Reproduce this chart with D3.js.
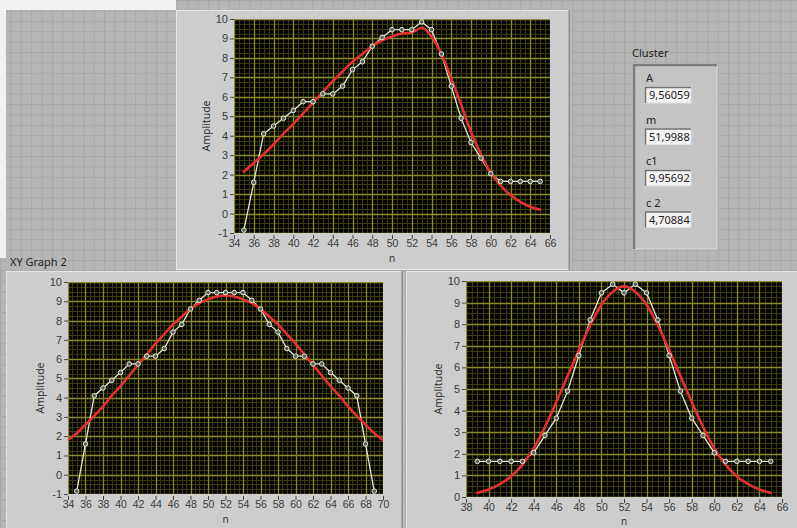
<!DOCTYPE html>
<html>
<head>
<meta charset="utf-8">
<script src="https://cdn.jsdelivr.net/npm/d3@7"></script>
<style>
  body { margin: 0; background: #b4b4b4; }
  svg { display: block; font-family: "Noto Sans", "Open Sans", sans-serif; }
</style>
</head>
<body>
<div id="panel"></div>
<script>
// ---- data ----
var nTop = d3.range(35, 66);
var ampTop = [-0.85, 1.6, 4.1, 4.5, 4.9, 5.3, 5.75, 5.75, 6.15, 6.15, 6.55, 7.4, 7.8, 8.6, 9.05,
              9.45, 9.45, 9.45, 9.85, 9.45, 8.2, 6.55, 4.9, 3.65, 2.85, 2.05, 1.65, 1.65, 1.65, 1.65, 1.65];
var fitTop = [2.15, 2.6, 3.05, 3.55, 4.1, 4.6, 5.15, 5.7, 6.25, 6.8, 7.3, 7.8, 8.2, 8.6, 8.9,
              9.1, 9.25, 9.3, 9.55, 9.1, 8.2, 6.95, 5.6, 4.2, 3.05, 2.1, 1.45, 0.95, 0.6, 0.35, 0.2];

var nLeft = d3.range(35, 70);
var ampLeft = [-0.85, 1.6, 4.1, 4.5, 4.9, 5.3, 5.75, 5.75, 6.15, 6.15, 6.55, 7.4, 7.8, 8.6, 9.05,
               9.45, 9.45, 9.45, 9.45, 9.45, 9.05, 8.6, 7.8, 7.4, 6.55, 6.15, 6.15, 5.75, 5.75, 5.3,
               4.9, 4.5, 4.1, 1.6, -0.85];
var nLeftFit = d3.range(34, 71);
var fitLeft = [1.8, 2.15, 2.6, 3.05, 3.55, 4.1, 4.6, 5.15, 5.7, 6.25, 6.8, 7.3, 7.8, 8.2, 8.6, 8.9,
               9.1, 9.25, 9.3, 9.25, 9.1, 8.9, 8.6, 8.2, 7.8, 7.3, 6.8, 6.25, 5.7, 5.15, 4.6,
               4.1, 3.55, 3.05, 2.6, 2.15, 1.8];

var nRight = d3.range(39, 66);
var ampRight = [1.65, 1.65, 1.65, 1.65, 1.65, 2.05, 2.85, 3.65, 4.9, 6.55, 8.2, 9.45, 9.85, 9.45,
                9.85, 9.45, 8.2, 6.55, 4.9, 3.65, 2.85, 2.05, 1.65, 1.65, 1.65, 1.65, 1.65];
var fitRight = [0.2, 0.35, 0.6, 0.95, 1.5, 2.25, 3.25, 4.4, 5.6, 6.8, 7.95, 8.9, 9.5, 9.75,
                9.5, 8.9, 7.95, 6.8, 5.6, 4.4, 3.25, 2.25, 1.5, 0.95, 0.6, 0.35, 0.2];

var clusterNames = ["A", "m", "c1", "c 2"];
var clusterValues = ["9,56059", "51,9988", "9,95692", "4,70884"];

var W = 797, H = 528;
var svg = d3.select("#panel").append("svg").attr("width", W).attr("height", H);
var defs = svg.append("defs");

// panel background with faint grid
var pat = defs.append("pattern").attr("id", "bg").attr("width", 10.4).attr("height", 10.4)
    .attr("patternUnits", "userSpaceOnUse");
pat.append("rect").attr("width", 10.4).attr("height", 10.4).attr("fill", "#b6b6b6");
pat.append("path").attr("d", "M0,0.5H10.4M0.5,0V10.4").attr("stroke", "#a9a9a9").attr("stroke-width", 1.2);
svg.append("rect").attr("width", W).attr("height", H).attr("fill", "url(#bg)");
svg.append("rect").attr("x", 0).attr("y", 0).attr("width", 176).attr("height", 10).attr("fill", "#f2f2f2");
svg.append("rect").attr("x", 0).attr("y", 0).attr("width", 6).attr("height", 258).attr("fill", "#f2f2f2");

// label of lower-left graph
svg.append("text").attr("x", 10).attr("y", 266).attr("font-size", 11).attr("fill", "#222")
    .text("XY Graph 2");

// LabVIEW prints a plain hyphen for negatives
var tickFmt = function(d) { return String(d); };

function drawGraph(cfg) {
  var g = svg.append("g");
  var f = cfg.frame;
  // frame
  g.append("rect").attr("x", f[0]).attr("y", f[1]).attr("width", f[2] - f[0]).attr("height", f[3] - f[1])
      .attr("fill", "#cdcdcd");
  g.append("rect").attr("x", f[0] + 0.5).attr("y", f[1] + 0.5).attr("width", f[2] - f[0] - 1).attr("height", f[3] - f[1] - 1)
      .attr("fill", "none").attr("stroke", "#e6e6e6");
  g.append("line").attr("x1", f[2] - 1.5).attr("x2", f[2] - 1.5).attr("y1", f[1]).attr("y2", f[3])
      .attr("stroke", "#8f8f8f").attr("stroke-width", 2);
  g.append("line").attr("x1", f[2] - 0).attr("x2", f[2] - 0).attr("y1", f[1]).attr("y2", f[3])
      .attr("stroke", "#bdbdbd").attr("stroke-width", 1);

  var x = d3.scaleLinear().domain(cfg.xDomain).range([cfg.plot[0], cfg.plot[1]]);
  var y = d3.scaleLinear().domain(cfg.yDomain).range([cfg.plot[3], cfg.plot[2]]);
  var pl = cfg.plot[0], pr = cfg.plot[1], pt = cfg.plot[2], pb = cfg.plot[3];

  g.append("rect").attr("x", pl).attr("y", pt).attr("width", pr - pl).attr("height", pb - pt)
      .attr("fill", "#050500");

  var id = "clip" + cfg.id;
  defs.append("clipPath").attr("id", id).append("rect")
      .attr("x", pl).attr("y", pt).attr("width", pr - pl).attr("height", pb - pt);
  var plot = g.append("g").attr("clip-path", "url(#" + id + ")");

  // minor grid
  var xMinor = d3.range(cfg.xDomain[0], cfg.xDomain[1] + 0.01, 0.5);
  var yMinor = d3.range(cfg.yDomain[0], cfg.yDomain[1] + 0.01, 0.25);
  plot.selectAll(".xm").data(xMinor).enter().append("line")
      .attr("x1", function(d) { return Math.round(x(d)) + 0.5; })
      .attr("x2", function(d) { return Math.round(x(d)) + 0.5; })
      .attr("y1", pt).attr("y2", pb).attr("stroke", "#3a3a12").attr("stroke-width", 1);
  plot.selectAll(".ym").data(yMinor).enter().append("line")
      .attr("y1", function(d) { return Math.round(y(d)) + 0.5; })
      .attr("y2", function(d) { return Math.round(y(d)) + 0.5; })
      .attr("x1", pl).attr("x2", pr).attr("stroke", "#3a3a12").attr("stroke-width", 1);
  // major grid
  plot.selectAll(".xM").data(cfg.xTicks).enter().append("line")
      .attr("x1", function(d) { return Math.round(x(d)) + 0.5; })
      .attr("x2", function(d) { return Math.round(x(d)) + 0.5; })
      .attr("y1", pt).attr("y2", pb).attr("stroke", "#8a8a2c").attr("stroke-width", 1.3);
  plot.selectAll(".yM").data(cfg.yTicks).enter().append("line")
      .attr("y1", function(d) { return Math.round(y(d)) + 0.5; })
      .attr("y2", function(d) { return Math.round(y(d)) + 0.5; })
      .attr("x1", pl).attr("x2", pr).attr("stroke", "#8a8a2c").attr("stroke-width", 1.3);

  // measured data
  var pts = cfg.n.map(function(n, i) { return { n: n, v: cfg.amp[i] }; });
  var line = d3.line().x(function(d) { return x(d.n); }).y(function(d) { return y(d.v); });
  plot.append("path").datum(pts).attr("d", line).attr("fill", "none")
      .attr("stroke", "#dfe6d6").attr("stroke-width", 1.3);

  // fitted curve
  var fpts = cfg.fitN.map(function(n, i) { return { n: n, v: cfg.fit[i] }; });
  var fline = d3.line().curve(d3.curveMonotoneX)
      .x(function(d) { return x(d.n); }).y(function(d) { return y(d.v); });
  plot.append("path").datum(fpts).attr("d", fline).attr("fill", "none")
      .attr("stroke", "#e4312d").attr("stroke-width", 2.6).attr("stroke-linecap", "round");

  plot.selectAll(".pt").data(pts).enter().append("circle")
      .attr("cx", function(d) { return x(d.n); })
      .attr("cy", function(d) { return y(d.v); })
      .attr("r", 2.3).attr("fill", "#5c6252").attr("stroke", "#e6ecdf").attr("stroke-width", 1);

  // y axis
  var ya = g.append("g").attr("transform", "translate(" + pl + ",0)")
      .call(d3.axisLeft(y).tickValues(cfg.yTicks).tickSize(4).tickPadding(2).tickFormat(tickFmt));
  ya.select(".domain").remove();
  ya.selectAll("line").attr("stroke", "#444");
  ya.selectAll("text").attr("font-size", 11).attr("fill", "#3a3a3a").attr("font-family", null);

  // x axis
  var xa = g.append("g").attr("transform", "translate(0," + (pb + 2) + ")")
      .call(d3.axisBottom(x).tickValues(cfg.xTicks).tickSize(4).tickPadding(1).tickFormat(tickFmt));
  xa.select(".domain").remove();
  xa.selectAll("line").attr("stroke", "#444");
  xa.selectAll("text").attr("font-size", 10.5).attr("fill", "#3a3a3a").attr("font-family", null);

  g.append("text").attr("transform", "translate(" + (pl - 24) + "," + ((pt + pb) / 2) + ") rotate(-90)")
      .attr("text-anchor", "middle").attr("font-size", 10.5).attr("fill", "#333").text("Amplitude");
  g.append("text").attr("x", (pl + pr) / 2).attr("y", Math.min(pb + 29, H - 3)).attr("text-anchor", "middle")
      .attr("font-size", 10).attr("fill", "#333").text("n");
}

drawGraph({
  id: "top", frame: [176, 10, 571, 270], plot: [234, 550, 19, 233],
  xDomain: [34, 66], yDomain: [-1, 10],
  xTicks: d3.range(34, 67, 2), yTicks: d3.range(-1, 11),
  n: nTop, amp: ampTop, fitN: nTop, fit: fitTop
});
drawGraph({
  id: "left", frame: [6, 271, 404, 540], plot: [68, 383, 282, 494],
  xDomain: [34, 70], yDomain: [-1, 10],
  xTicks: d3.range(34, 71, 2), yTicks: d3.range(-1, 11),
  n: nLeft, amp: ampLeft, fitN: nLeftFit, fit: fitLeft
});
drawGraph({
  id: "right", frame: [406, 271, 800, 540], plot: [466, 782, 281, 497],
  xDomain: [38, 66], yDomain: [0, 10],
  xTicks: d3.range(38, 67, 2), yTicks: d3.range(0, 11),
  n: nRight, amp: ampRight, fitN: nRight, fit: fitRight
});

// cluster indicator
var cl = svg.append("g");
cl.append("text").attr("x", 632).attr("y", 57).attr("font-size", 11).attr("fill", "#222").text("Cluster");
cl.append("rect").attr("x", 633).attr("y", 64).attr("width", 84).attr("height", 185)
    .attr("fill", "#c4c4c4").attr("stroke", "#d8d8d8");
cl.append("path").attr("d", "M634,249V65H717").attr("fill", "none").attr("stroke", "#7d7d7d").attr("stroke-width", 2.5);

var items = cl.selectAll(".item").data(clusterNames).enter().append("g")
    .attr("transform", function(d, i) { return "translate(645," + (82 + i * 41.5) + ")"; });
items.append("text").attr("x", 1).attr("y", 0).attr("font-size", 11).attr("fill", "#222")
    .text(function(d) { return d; });
items.append("rect").attr("x", 0).attr("y", 5).attr("width", 46).attr("height", 16)
    .attr("fill", "#f3f3f3").attr("stroke", "#e0e0e0");
items.append("path").attr("d", "M0.5,21V5.5H46").attr("fill", "none").attr("stroke", "#6e6e6e").attr("stroke-width", 1.5);
items.append("text").attr("x", 4).attr("y", 17).attr("font-size", 11).attr("fill", "#222")
    .text(function(d, i) { return clusterValues[i]; });
</script>
</body>
</html>
